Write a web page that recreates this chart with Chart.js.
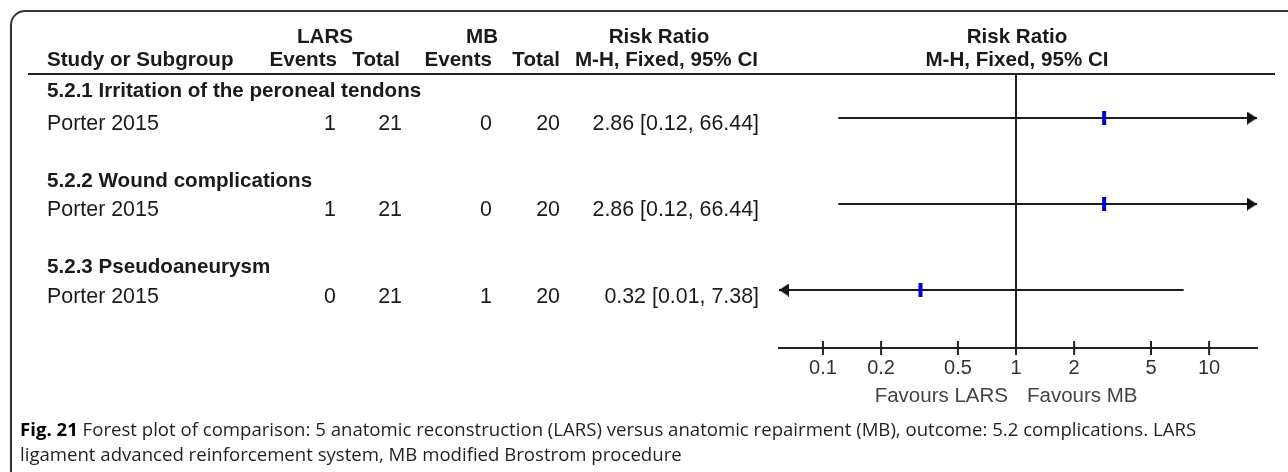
<!DOCTYPE html>
<html><head><meta charset="utf-8">
<script src="https://cdn.jsdelivr.net/npm/chart.js@4"></script>
<style>
html,body{margin:0;padding:0;width:1288px;height:472px;overflow:hidden;background:#fff;}
#frame{position:absolute;left:10px;top:10px;width:1330px;height:510px;border:2px solid #333;border-radius:15px;box-sizing:border-box;}
#chart{position:absolute;left:0;top:0;}
.t{position:absolute;white-space:nowrap;font-family:"Liberation Sans",Arial,sans-serif;color:#1a1a1a;}
.b{font-weight:bold;}
#hr{position:absolute;left:28px;top:73px;width:1247px;height:2px;background:#222;}
.cap{position:absolute;left:20px;white-space:nowrap;font-family:"Open Sans",sans-serif;color:#231f20;}
</style></head><body>
<div id="frame"></div>
<div id="hr"></div>
<canvas id="chart" width="1288" height="472"></canvas>
<div id="texts"></div>
<script>
// ---------- data ----------
const subgroups = ['5.2.1 Irritation of the peroneal tendons', '5.2.2 Wound complications', '5.2.3 Pseudoaneurysm'];
const studies = ['Porter 2015', 'Porter 2015', 'Porter 2015'];
const larsEvents = [1, 1, 0];
const larsTotal = [21, 21, 21];
const mbEvents = [0, 0, 1];
const mbTotal = [20, 20, 20];
const riskRatio = [2.86, 2.86, 0.32];
const ciLow = [0.12, 0.12, 0.01];
const ciHigh = [66.44, 66.44, 7.38];
const tickValues = [0.1, 0.2, 0.5, 1, 2, 5, 10];
const tickLabels = ['0.1', '0.2', '0.5', '1', '2', '5', '10'];
const favourLeft = 'Favours LARS';
const favourRight = 'Favours MB';
const captionBold = 'Fig. 21';
const captionLine1 = ' Forest plot of comparison: 5 anatomic reconstruction (LARS) versus anatomic repairment (MB), outcome: 5.2 complications. LARS';
const captionLine2 = 'ligament advanced reinforcement system, MB modified Brostrom procedure';

// ---------- table text ----------
const host = document.getElementById('texts');
function put(text, x, baseline, size, align, cls, color) {
  const d = document.createElement('div');
  d.className = 't ' + (cls || '');
  d.textContent = text;
  d.style.fontSize = size + 'px';
  d.style.lineHeight = size + 'px';
  d.style.top = (baseline - 0.8465 * size) + 'px';
  d.style.left = x + 'px';
  if (color) d.style.color = color;
  if (align === 'right') d.style.transform = 'translateX(-100%)';
  if (align === 'center') d.style.transform = 'translateX(-50%)';
  host.appendChild(d);
}
const BS = 20.6, RS = 21.4;
put('LARS', 325, 43, BS, 'center', 'b');
put('MB', 482, 43, BS, 'center', 'b');
put('Risk Ratio', 659, 43, BS, 'center', 'b');
put('Risk Ratio', 1017, 43, BS, 'center', 'b');
put('Study or Subgroup', 47, 66, BS, 'left', 'b');
put('Events', 337, 66, BS, 'right', 'b');
put('Total', 400, 66, BS, 'right', 'b');
put('Events', 492, 66, BS, 'right', 'b');
put('Total', 560, 66, BS, 'right', 'b');
put('M-H, Fixed, 95% CI', 758, 66, BS, 'right', 'b');
put('M-H, Fixed, 95% CI', 1017, 66, BS, 'center', 'b');
const headBase = [97, 187, 273];
subgroups.forEach((s, i) => {
  put(s, 47, headBase[i], BS, 'left', 'b');
  const yb = 131 + 86.5 * i;
  put(studies[i], 47, yb, RS, 'left');
  put(String(larsEvents[i]), 336, yb, RS, 'right');
  put(String(larsTotal[i]), 402, yb, RS, 'right');
  put(String(mbEvents[i]), 492, yb, RS, 'right');
  put(String(mbTotal[i]), 560, yb, RS, 'right');
  put(riskRatio[i].toFixed(2) + ' [' + ciLow[i].toFixed(2) + ', ' + ciHigh[i].toFixed(2) + ']', 759, yb, RS, 'right');
});
put(favourLeft, 1008, 402, 20.5, 'right', '', '#444');
put(favourRight, 1027, 402, 20.5, 'left', '', '#444');

// ---------- caption ----------
(function () {
  const m = document.createElement('canvas').getContext('2d');
  m.font = 'bold 100px "Open Sans"';
  let w = m.measureText(captionBold).width;
  m.font = '100px "Open Sans"';
  w += m.measureText(captionLine1).width;
  const size = 100 * 1177 / w;
  function capLine(html, baseline) {
    const d = document.createElement('div');
    d.className = 'cap';
    d.style.fontSize = size + 'px';
    d.style.lineHeight = size + 'px';
    d.style.top = (baseline - 0.888 * size) + 'px';
    d.innerHTML = html;
    host.appendChild(d);
  }
  const b = document.createElement('b'); b.textContent = captionBold; b.style.color = '#000';
  const s1 = document.createElement('span'); s1.textContent = captionLine1;
  capLine(b.outerHTML + s1.outerHTML, 437);
  const s2 = document.createElement('span'); s2.textContent = captionLine2;
  capLine(s2.outerHTML, 462);
})();

// ---------- chart ----------
const xMin = 0.0592, xMax = 17.7;
function arrowImage() {
  const c = document.createElement('canvas');
  c.width = 20; c.height = 13;
  const g = c.getContext('2d');
  g.fillStyle = '#111';
  g.beginPath(); g.moveTo(0, 0); g.lineTo(10, 6.5); g.lineTo(0, 13); g.closePath(); g.fill();
  return c;
}
const arrow = arrowImage();
const datasets = [];
riskRatio.forEach((v, i) => {
  const lo = ciLow[i], hi = ciHigh[i];
  datasets.push({
    data: [{ x: Math.max(lo, xMin), y: i + 1 }, { x: Math.min(hi, xMax), y: i + 1 }],
    showLine: true, borderColor: '#1c1c1c', borderWidth: 2,
    pointStyle: [arrow, arrow], pointRotation: [180, 0],
    pointRadius: [lo < xMin ? 6 : 0, hi > xMax ? 6 : 0],
    clip: false, order: 2
  });
});
datasets.push({
  data: riskRatio.map((v, i) => ({ x: v, y: i + 1 })),
  showLine: false, pointStyle: 'line', pointRotation: 90, pointRadius: 7,
  pointBorderWidth: 4, borderColor: '#0000cc', pointBorderColor: '#0000cc',
  clip: false, order: 0
});
datasets.push({
  data: tickValues.map(v => ({ x: v, y: 3.674 })),
  showLine: false, pointStyle: 'line', pointRotation: 90, pointRadius: 7,
  pointBorderWidth: 2, borderColor: '#222', pointBorderColor: '#222',
  clip: false, order: 1
});

new Chart(document.getElementById('chart'), {
  type: 'scatter',
  data: { datasets },
  options: {
    responsive: false, animation: false, events: [],
    layout: { padding: { left: 779, right: 31, top: 75, bottom: 84 } },
    plugins: { legend: { display: false }, tooltip: { enabled: false } },
    scales: {
      x: {
        type: 'logarithmic', min: xMin, max: xMax, bounds: 'data',
        afterBuildTicks: s => { s.ticks = tickValues.map(v => ({ value: v })); },
        afterFit: s => { s.height = 40; },
        ticks: {
          callback: (v, idx) => tickLabels[idx],
          font: { family: 'Liberation Sans', size: 20 }, color: '#333',
          padding: 8, autoSkip: false, maxRotation: 0
        },
        grid: {
          drawTicks: false, drawOnChartArea: true, lineWidth: 2,
          color: c => (c.tick && c.tick.value === 1) ? '#222' : 'rgba(0,0,0,0)'
        },
        border: { display: true, color: '#222', width: 2 }
      },
      y: { type: 'linear', display: false, reverse: true, min: 0.5, max: 3.674 }
    }
  }
});
</script>
</body></html>
